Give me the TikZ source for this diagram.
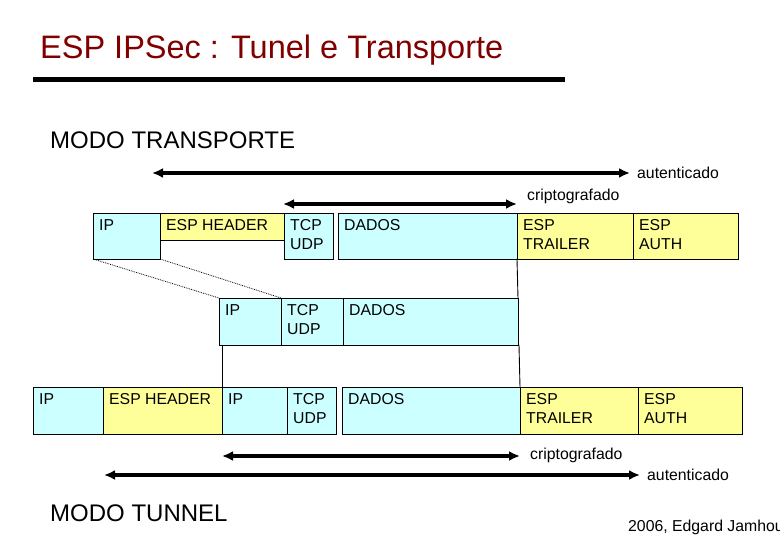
\documentclass[tikz,border=0pt]{standalone}
\usepackage{fontspec}
\setmainfont{Liberation Sans}
\usetikzlibrary{arrows.meta}
\definecolor{cy}{HTML}{CCFFFF}
\definecolor{ye}{HTML}{FFFF99}
\definecolor{tred}{HTML}{800000}
\begin{document}
\begin{tikzpicture}[x=1pt,y=-1pt,
  bx/.style={draw=black,line width=0.9pt,minimum height=0pt},
  lbl/.style={anchor=north west,inner sep=0pt,font=\fontsize{15.8}{19.5}\selectfont,align=left},
  dbl/.style={line width=3.2pt,{Latex[length=11pt,width=10pt]}-{Latex[length=11pt,width=10pt]}},
  txt/.style={anchor=west,inner sep=0pt,font=\fontsize{15.8}{19}\selectfont}]
\useasboundingbox (0,0) rectangle (780,540);
\fill[white] (0,0) rectangle (780,540);
\node[anchor=west,inner sep=0pt,text=tred,font=\fontsize{32.5}{34}\selectfont] (title) at (40,50) {ESP IPSec : Tunel e Transporte};
\draw[line width=5pt] (33,80) -- (565,80);
\node[anchor=west,inner sep=0pt,font=\fontsize{24}{26}\selectfont] (mt) at (50,140) {MODO TRANSPORTE};
\node[anchor=west,inner sep=0pt,font=\fontsize{24}{26}\selectfont] (mn) at (50,513) {MODO TUNNEL};
\node[txt] (c2) at (628,527) {2006, Edgard Jamhour};
\newcommand{\pbox}[6]{\filldraw[bx,fill=#5] (#1,#2) rectangle (#3,#4); \node[lbl] at (#1+6,#2+6) {#6};}
\pbox{93}{213}{160}{259}{cy}{IP}
\pbox{160}{213}{284}{240}{ye}{ESP HEADER}
\pbox{284}{213}{333}{259}{cy}{TCP\\UDP}
\pbox{338}{213}{517}{259}{cy}{DADOS}
\pbox{517}{213}{633}{259}{ye}{ESP\\TRAILER}
\pbox{633}{213}{738}{259}{ye}{ESP\\AUTH}
\pbox{219}{298}{281}{345}{cy}{IP}
\pbox{281}{298}{343}{345}{cy}{TCP\\UDP}
\pbox{343}{298}{518}{345}{cy}{DADOS}
\pbox{33}{387}{103}{434}{cy}{IP}
\pbox{103}{387}{222}{434}{ye}{ESP HEADER}
\pbox{222}{387}{287}{434}{cy}{IP}
\pbox{287}{387}{336}{434}{cy}{TCP\\UDP}
\pbox{342}{387}{520}{434}{cy}{DADOS}
\pbox{520}{387}{638}{434}{ye}{ESP\\TRAILER}
\pbox{638}{387}{742}{434}{ye}{ESP\\AUTH}
\draw[densely dotted,line width=0.8pt] (93,259) -- (219,298);
\draw[densely dotted,line width=0.8pt] (160,259) -- (281,298);
\draw[line width=0.9pt] (517,259) -- (518,298);
\draw[line width=0.9pt] (222,345) -- (222,387);
\draw[line width=0.9pt] (519,345) -- (520,387);
\draw[dbl] (152,173) -- (630,173);
\node[txt] (a1) at (637,173) {autenticado};
\draw[dbl] (283,204) -- (517,204);
\node[txt] (k1) at (527,196) {criptografado};
\draw[dbl] (222,456) -- (520,456);
\node[txt] (k2) at (530,455) {criptografado};
\draw[dbl] (104,475) -- (640,475);
\node[txt] (a2) at (647,475) {autenticado};
\end{tikzpicture}
\end{document}
